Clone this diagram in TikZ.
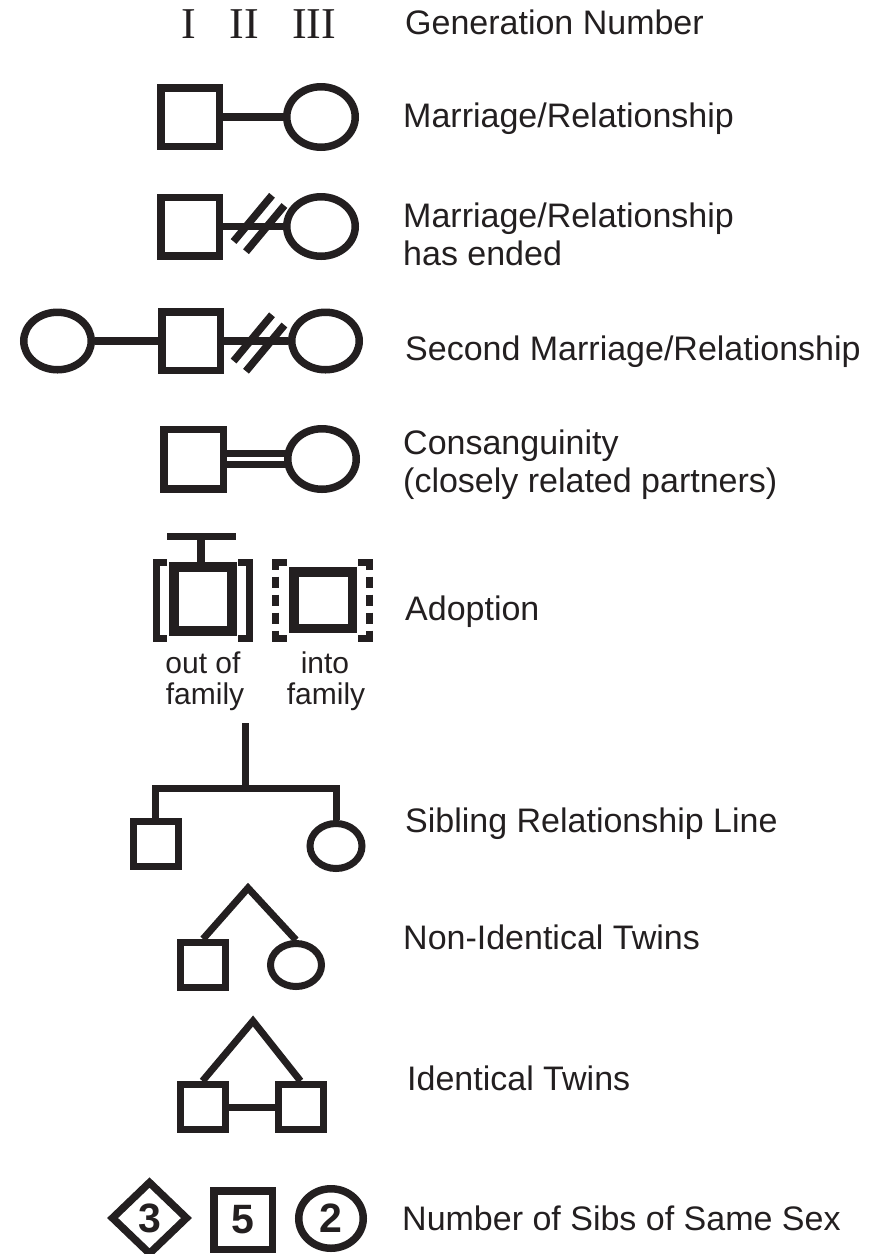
\documentclass[tikz,border=0pt]{standalone}
\usepackage{fontspec}
\setmainfont{Liberation Sans}
\newfontfamily\romanfont{Liberation Serif}
\usetikzlibrary{shapes.geometric,calc}
\definecolor{ink}{HTML}{231F20}
\tikzset{
  sym/.style={draw=ink, line width=7.5pt, inner sep=0pt},
  sqr/.style={sym, rectangle, minimum width=#1, minimum height=#1},
  rct/.style n args={2}{sym, rectangle, minimum width=#1, minimum height=#2},
  ell/.style n args={2}{sym, ellipse, minimum width=#1, minimum height=#2},
  conn/.style={draw=ink, line width=7.5pt},
  thin/.style={draw=ink, line width=7pt},
  slashst/.style={draw=ink, line width=7.5pt},
  lab/.style={anchor=base west, text=ink, inner sep=0pt, font=\fontsize{34}{40}\selectfont},
  small/.style={anchor=base, text=ink, inner sep=0pt, font=\fontsize{30}{34}\selectfont},
  roman/.style={anchor=base, text=ink, inner sep=0pt, font=\romanfont\fontsize{44}{50}\selectfont},
  num/.style={text=ink, font=\bfseries\fontsize{41}{46}\selectfont}
}
\newcommand\slashpair[1]{%
  \draw[slashst] ($(#1)+(-25.4,18)$) -- ($(#1)+(13,-28.2)$);
  \draw[slashst] ($(#1)+(-13,28.2)$) -- ($(#1)+(25.4,-18)$);
}
\begin{document}
\begin{tikzpicture}[x=1pt,y=-1pt]
\path[use as bounding box, fill=white] (0,0) rectangle (873,1254);

% Row 1: generation numbers
\node[roman] (g1) at (189,38) {I};
\node[roman] (g2) at (244,38) {II};
\node[roman] (g3) at (314,38) {III};
\node[lab] (t1) at (405,34) {Generation Number};

% Row 2: marriage
\node[sqr=58.5] (s2) at (190,117) {};
\node[ell={68.5}{60.5}] (e2) at (321,117) {};
\draw[conn] (s2.east) -- (e2.west);
\node[lab] (t2) at (403,127) {Marriage/Relationship};

% Row 3: ended
\node[sqr=58.5] (s3) at (190,226.5) {};
\node[ell={68.5}{59.5}] (e3) at (321,226.5) {};
\draw[conn] (s3.east) -- (e3.west);
\coordinate (m3) at (259,223.5);
\slashpair{m3}
\node[lab] (t3a) at (403,227) {Marriage/Relationship};
\node[lab] (t3b) at (403,265) {has ended};

% Row 4: second marriage
\node[ell={67.5}{57.5}] (e4a) at (57.5,341) {};
\node[sqr=58.5] (s4) at (191,341) {};
\node[ell={67.5}{57.5}] (e4b) at (325.5,341) {};
\draw[conn] (e4a.east) -- (s4.west);
\draw[conn] (s4.east) -- (e4b.west);
\coordinate (m4) at (259,343);
\slashpair{m4}
\node[lab] (t4) at (405,360) {Second Marriage/Relationship};

% Row 5: consanguinity
\node[sqr=59.5] (s5) at (193.5,459) {};
\node[ell={68.5}{60.5}] (e5) at (322,459) {};
\draw[thin] ($(s5.east)+(0,-5.5)$) -- ($(e5.west)+(3,-5.5)$);
\draw[thin] ($(s5.east)+(0,5.5)$) -- ($(e5.west)+(3,5.5)$);
\node[lab] (t5a) at (403,454) {Consanguinity};
\node[lab] (t5b) at (403,492) {(closely related partners)};

% Row 6: adoption
\node[rct={58}{64}, line width=10pt] (a1) at (203,599) {};
\coordinate (tbl) at (167,536.5);
\coordinate (tbr) at (236,536.5);
\coordinate (tbm) at (201,536.5);
\draw[thin] (tbl) -- (tbr);
\draw[thin, line width=8pt] (tbm) -- (tbm |- a1.north);
\draw[thin] (167,562) -- (156.5,562) -- (156.5,638.5) -- (167,638.5);
\draw[thin] (238,562) -- (249,562) -- (249,638.5) -- (238,638.5);
\node[rct={58.5}{56.5}, line width=9.5pt] (a2) at (323,600) {};
\draw[thin, dash pattern=on 19 off 7 on 11 off 7 on 11 off 7 on 11 off 7 on 30 off 10]
  (287,562) -- (275.5,562) -- (275.5,638.5) -- (287,638.5);
\draw[thin, dash pattern=on 19 off 7 on 11 off 7 on 11 off 7 on 11 off 7 on 30 off 10]
  (358,562) -- (369.5,562) -- (369.5,638.5) -- (358,638.5);
\node[small] (l1a) at (203,673) {out of};
\node[small] (l1b) at (205,704) {family};
\node[small] (l2a) at (325,673) {into};
\node[small] (l2b) at (326,704) {family};
\node[lab] (t6) at (405,620) {Adoption};

% Row 7: siblings
\node[sqr=45, line width=7pt] (sq7) at (155.5,844) {};
\node[ell={52}{45}, line width=7pt] (el7) at (336,846) {};
\coordinate (sibtop) at (245,723);
\coordinate (sibbar) at (245,788);
\draw[thin] (sibtop) -- (sibbar);
\draw[thin] (sq7.north) |- (sibbar) -| (el7.north);
\node[lab] (t7) at (405,832) {Sibling Relationship Line};

% Row 8: non-identical twins
\node[sqr=45, line width=7pt] (sq8) at (203,965) {};
\node[ell={51}{43}, line width=7pt] (el8) at (296,965) {};
\coordinate (ap8) at (248,888);
\draw[thin] (sq8.north) -- (ap8) -- (el8.north);
\node[lab] (t8) at (403,949) {Non-Identical Twins};

% Row 9: identical twins
\node[sqr=45, line width=7pt] (sq9a) at (202.5,1107) {};
\node[sqr=45, line width=7pt] (sq9b) at (300.5,1107) {};
\coordinate (ap9) at (253,1021);
\draw[thin] (sq9a.north) -- (ap9) -- (sq9b.north);
\draw[thin] (sq9a.east) -- (sq9b.west);
\node[lab] (t9) at (407,1090) {Identical Twins};

% Row 10: number of sibs
\node[sym, diamond, minimum width=77, minimum height=74, num] (d10) at (149.5,1218) {3};
\node[sqr=58.5, num] (sq10) at (243,1220) {5};
\node[ell={64.5}{59.5}, num] (el10) at (331,1218.5) {2};
\node[lab] (t10) at (402,1230) {Number of Sibs of Same Sex};
\end{tikzpicture}
\end{document}
